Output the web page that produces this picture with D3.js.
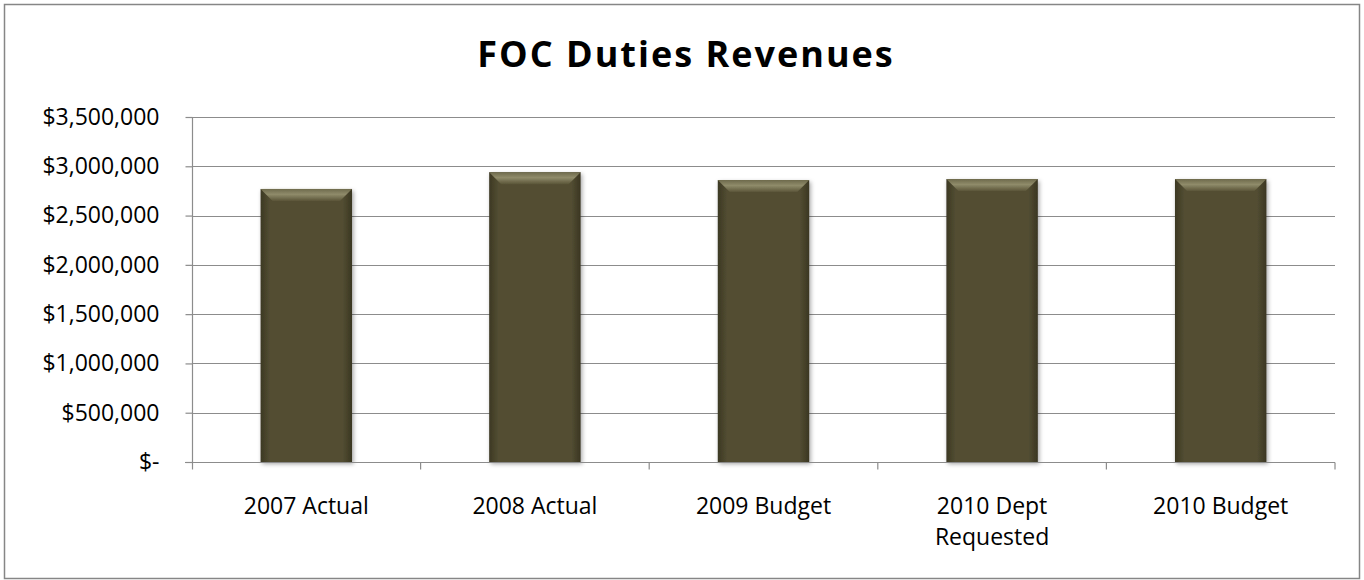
<!DOCTYPE html>
<html>
<head>
<meta charset="utf-8">
<script src="https://cdn.jsdelivr.net/npm/d3@7"></script>
<style>
	body { margin: 0; background: #fff; }
	svg { display: block; }
</style>
</head>
<body>
<div id="chart"></div>
<script>
const categories = ["2007 Actual", "2008 Actual", "2009 Budget", "2010 Dept\nRequested", "2010 Budget"];
const revenues = [2770000, 2940000, 2860000, 2870000, 2870000];
const yTicks = [0, 500000, 1000000, 1500000, 2000000, 2500000, 3000000, 3500000];

const width = 1364, height = 580;
const margin = {left: 192, right: 29, top: 117, bottom: 118};

const svg = d3.select("#chart").append("svg")
	.attr("width", width)
	.attr("height", height);

const defs = svg.append("defs");

let sideGrad = defs.append("linearGradient").attr("id", "side");
sideGrad.append("stop").attr("offset", "0%").attr("stop-color", "#3c3823");
sideGrad.append("stop").attr("offset", "10%").attr("stop-color", "#524d32");
sideGrad.append("stop").attr("offset", "90%").attr("stop-color", "#524d32");
sideGrad.append("stop").attr("offset", "100%").attr("stop-color", "#3a3622");

let topGrad = defs.append("linearGradient").attr("id", "topbevel")
	.attr("x1", 0).attr("x2", 0).attr("y1", 0).attr("y2", 1);
topGrad.append("stop").attr("offset", "0%").attr("stop-color", "#6e6a4c");
topGrad.append("stop").attr("offset", "45%").attr("stop-color", "#8f8b6a");
topGrad.append("stop").attr("offset", "100%").attr("stop-color", "#5a5538");

let shadow = defs.append("filter").attr("id", "shadow")
	.attr("x", "-10%").attr("y", "-10%").attr("width", "130%").attr("height", "130%");
shadow.append("feDropShadow")
	.attr("dx", 1.5).attr("dy", 2).attr("stdDeviation", 2)
	.attr("flood-color", "#000").attr("flood-opacity", 0.35);

// outer frame
svg.append("rect")
	.attr("x", 4.5).attr("y", 4.5)
	.attr("width", width - 9).attr("height", height - 6)
	.attr("fill", "#fff")
	.attr("stroke", "#868686")
	.attr("stroke-width", 1.5);

svg.append("text")
	.attr("x", 686)
	.attr("y", 67)
	.attr("text-anchor", "middle")
	.style("font-family", "'Open Sans', sans-serif")
	.style("font-weight", "bold")
	.style("font-size", "36px")
	.style("letter-spacing", "2px")
	.style("fill", "#000")
	.text("FOC Duties Revenues");

const x = d3.scaleBand()
	.domain(categories)
	.range([margin.left, width - margin.right])
	.paddingInner(0.6)
	.paddingOuter(0.3);

const xTicks = d3.scaleBand()
	.domain(categories)
	.range([margin.left, width - margin.right]);

const y = d3.scaleLinear()
	.domain([0, 3500000])
	.range([height - margin.bottom, margin.top]);

const fmt = v => v === 0 ? "$-" : "$" + d3.format(",")(v);

// grid
svg.append("g")
	.selectAll("line")
	.data(yTicks.filter(d => d > 0))
	.enter().append("line")
	.attr("x1", margin.left)
	.attr("x2", width - margin.right)
	.attr("y1", d => Math.round(y(d)) + 0.5)
	.attr("y2", d => Math.round(y(d)) + 0.5)
	.style("stroke", "#8c8c8c")
	.style("stroke-width", 1.2);

const yAxis = svg.append("g")
	.attr("transform", "translate(" + (margin.left + 0.5) + ",0)")
	.call(d3.axisLeft(y).tickValues(yTicks).tickFormat(fmt).tickSize(7).tickPadding(26));

yAxis.selectAll("line, path").style("stroke", "#8c8c8c").style("stroke-width", 1.2);
yAxis.select("path").attr("d", "M0," + margin.top + "V" + (height - margin.bottom));
yAxis.selectAll("text")
	.style("font-family", "'Open Sans', sans-serif")
	.style("font-size", "23px")
	.style("fill", "#000");

// bars
const bars = svg.append("g")
	.selectAll("g")
	.data(categories.map((c, i) => ({cat: c, value: revenues[i]})))
	.enter().append("g")
	.attr("filter", "url(#shadow)");

bars.append("rect")
	.attr("x", d => x(d.cat))
	.attr("y", d => y(d.value))
	.attr("width", x.bandwidth())
	.attr("height", d => y(0) - y(d.value))
	.attr("fill", "url(#side)");

bars.append("path")
	.attr("d", d => {
		let x0 = x(d.cat), x1 = x0 + x.bandwidth(), t = y(d.value), b = 12;
		return "M" + x0 + "," + t + "L" + x1 + "," + t + "L" + (x1 - b) + "," + (t + b) + "L" + (x0 + b) + "," + (t + b) + "Z";
	})
	.attr("fill", "url(#topbevel)");

// x axis
const xAxisG = svg.append("g")
	.attr("transform", "translate(0," + (Math.round(y(0)) + 0.5) + ")");

xAxisG.append("line")
	.attr("x1", margin.left - 7).attr("x2", width - margin.right)
	.style("stroke", "#8c8c8c").style("stroke-width", 1.2);

xAxisG.selectAll("line.tick")
	.data(categories)
	.enter().append("line")
	.attr("class", "tick")
	.attr("x1", d => xTicks(d) + xTicks.bandwidth())
	.attr("x2", d => xTicks(d) + xTicks.bandwidth())
	.attr("y1", 0).attr("y2", 7)
	.style("stroke", "#8c8c8c").style("stroke-width", 1.2);

xAxisG.append("line")
	.attr("x1", margin.left + 0.5).attr("x2", margin.left + 0.5)
	.attr("y1", 0).attr("y2", 7)
	.style("stroke", "#8c8c8c").style("stroke-width", 1.2);

const labels = xAxisG.selectAll("text")
	.data(categories)
	.enter().append("text")
	.attr("x", d => xTicks(d) + xTicks.bandwidth() / 2)
	.attr("y", 51)
	.attr("text-anchor", "middle")
	.style("font-family", "'Open Sans', sans-serif")
	.style("font-size", "23px")
	.style("fill", "#000");

labels.each(function(d) {
	let parts = d.split("\n");
	d3.select(this).selectAll("tspan")
		.data(parts)
		.enter().append("tspan")
		.attr("x", xTicks(d) + xTicks.bandwidth() / 2)
		.attr("dy", (p, i) => i === 0 ? 0 : 31)
		.text(p => p);
});
</script>
</body>
</html>
